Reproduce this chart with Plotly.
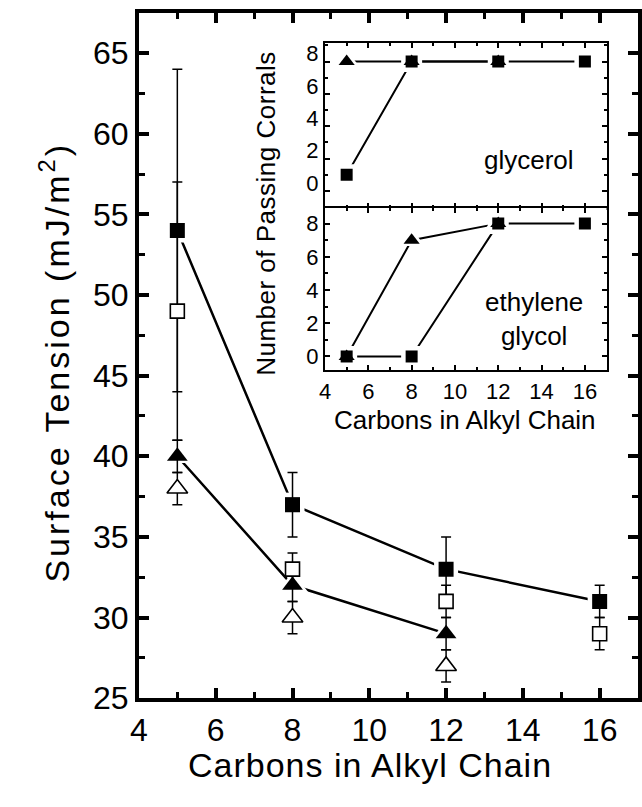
import plotly.graph_objects as go

# ---- main panel: surface tension vs. chain length ----
carbons = [5, 8, 12, 16]
carbons_tri = [5, 8, 12]

sq_filled = [54, 37, 33, 31]
sq_filled_err = [10, 2, 2, 1]
sq_open = [49, 33, 31, 29]
sq_open_err = [8, 1, 1, 1]
tri_filled = [40, 32, 29]
tri_filled_err = [1, 1, 1]
tri_open = [38, 30, 27]
tri_open_err = [1, 1, 1]

# ---- inset: number of passing corrals ----
gly_sq = [1, 8, 8, 8]
gly_tri = [8, 8, 8]
eg_sq = [0, 0, 8, 8]
eg_tri = [0, 7, 8]

y_ticks_main = [25, 30, 35, 40, 45, 50, 55, 60, 65]
x_ticks = [4, 6, 8, 10, 12, 14, 16]
y_ticks_inset = [0, 2, 4, 6, 8]

W, H = 642, 807
FONT = "Liberation Sans, Arial, Helvetica, sans-serif"
BLACK = "#000000"


def px_x(p):
    return p / W


def px_y(p):
    return 1 - p / H


fig = go.Figure()


def add_series(x, y, err, symbol, size, filled, xa, ya, line_w=None, halo=True):
    """Line (optional) + white halo + error bars + marker, drawn in layers."""
    traces = {}
    if line_w:
        traces["line"] = go.Scatter(x=x, y=y, mode="lines", xaxis=xa, yaxis=ya,
                                    line=dict(color=BLACK, width=line_w),
                                    hoverinfo="skip", showlegend=False)
    if halo:
        traces["halo"] = go.Scatter(x=x, y=y, mode="markers", xaxis=xa, yaxis=ya,
                                    marker=dict(symbol=symbol, size=size + 9,
                                                color="white", line=dict(width=0)),
                                    hoverinfo="skip", showlegend=False)
    if err is not None:
        traces["err"] = go.Scatter(x=x, y=y, mode="markers", xaxis=xa, yaxis=ya,
                                   marker=dict(size=1, color="rgba(0,0,0,0)"),
                                   error_y=dict(type="data", array=err, visible=True,
                                                color=BLACK, thickness=1.5, width=5),
                                   hoverinfo="skip", showlegend=False)
    traces["mark"] = go.Scatter(x=x, y=y, mode="markers", xaxis=xa, yaxis=ya,
                                marker=dict(symbol=symbol, size=size,
                                            color=BLACK if filled else "white",
                                            line=dict(color=BLACK, width=0 if filled else 1.6)),
                                showlegend=False)
    return traces


layers = {"line": [], "halo": [], "err": [], "mark": []}

main_series = [
    add_series(carbons, sq_filled, sq_filled_err, "square", 15, True, "x", "y", line_w=2.5),
    add_series(carbons_tri, tri_filled, tri_filled_err, "triangle-up", 18, True, "x", "y", line_w=2.5),
    add_series(carbons, sq_open, sq_open_err, "square", 14, False, "x", "y", halo=False),
    add_series(carbons_tri, tri_open, tri_open_err, "triangle-up", 18, False, "x", "y", halo=False),
]
inset_series = [
    add_series(carbons_tri, gly_tri, None, "triangle-up", 14, True, "x2", "y2", line_w=2),
    add_series(carbons, gly_sq, None, "square", 12, True, "x2", "y2", line_w=2),
    add_series(carbons_tri, eg_tri, None, "triangle-up", 14, True, "x3", "y3", line_w=2),
    add_series(carbons, eg_sq, None, "square", 12, True, "x3", "y3", line_w=2),
]
for s in main_series + inset_series:
    for k, t in s.items():
        layers[k].append(t)
for k in ["line", "halo", "err", "mark"]:
    for t in layers[k]:
        fig.add_trace(t)

main_axis = dict(showline=True, linewidth=4, linecolor=BLACK, mirror="ticks",
                 ticks="inside", ticklen=10, tickwidth=4, tickcolor=BLACK,
                 showgrid=False, zeroline=False,
                 tickfont=dict(family=FONT, size=32, color=BLACK))
inset_axis = dict(showline=True, linewidth=2, linecolor=BLACK, mirror="ticks",
                  ticks="inside", ticklen=5, tickwidth=2, tickcolor=BLACK,
                  showgrid=False, zeroline=False,
                  tickfont=dict(family=FONT, size=22, color=BLACK))

fig.update_layout(
    width=W, height=H,
    margin=dict(l=0, r=0, t=0, b=0),
    paper_bgcolor="white", plot_bgcolor="white",
    showlegend=False,
    xaxis=dict(main_axis, domain=[px_x(132), px_x(639)], range=[4, 17], anchor="y",
               tickvals=x_ticks,
               minor=dict(ticks="inside", ticklen=6, tickwidth=3, dtick=1, tick0=4,
                          tickcolor=BLACK)),
    yaxis=dict(main_axis, domain=[px_y(714), px_y(12)], range=[25, 67.5], anchor="x",
               tickvals=y_ticks_main,
               minor=dict(ticks="inside", ticklen=6, tickwidth=3, dtick=2.5, tick0=25,
                          tickcolor=BLACK)),
    xaxis2=dict(inset_axis, domain=[px_x(321), px_x(607)], range=[4, 17], anchor="y2",
                tickvals=x_ticks, showticklabels=False,
                minor=dict(ticks="inside", ticklen=3, tickwidth=1.5, dtick=1, tick0=4,
                           tickcolor=BLACK)),
    yaxis2=dict(inset_axis, domain=[px_y(212), px_y(43)], range=[-1.05, 9.15], anchor="x2",
                tickvals=y_ticks_inset, ticklabelshift=-8,
                minor=dict(ticks="inside", ticklen=3, tickwidth=1.5, dtick=1, tick0=0,
                           tickcolor=BLACK)),
    xaxis3=dict(inset_axis, domain=[px_x(321), px_x(607)], range=[4, 17], anchor="y3",
                tickvals=x_ticks,
                minor=dict(ticks="inside", ticklen=3, tickwidth=1.5, dtick=1, tick0=4,
                           tickcolor=BLACK)),
    yaxis3=dict(inset_axis, domain=[px_y(378), px_y(212)], range=[-0.82, 8.94], anchor="x3",
                tickvals=y_ticks_inset,
                minor=dict(ticks="inside", ticklen=3, tickwidth=1.5, dtick=1, tick0=0,
                           tickcolor=BLACK)),
)


def spaced(text, px):
    return f'<span style="letter-spacing:{px}px">{text}</span>'


ann = [
    dict(text=spaced("Carbons in Alkyl Chain", 1), x=px_x(367), y=px_y(782), size=34, angle=0),
    dict(text=spaced("Surface Tension (mJ/m<sup>2</sup>)", 3), x=px_x(46), y=px_y(370),
         size=34, angle=-90),
    dict(text="Carbons in Alkyl Chain", x=px_x(463), y=px_y(429), size=26, angle=0),
    dict(text=spaced("Number of Passing Corrals", 0.5), x=px_x(261), y=px_y(217),
         size=26, angle=-90),
    dict(text="glycerol", x=px_x(528), y=px_y(163), size=26, angle=0),
    dict(text="ethylene<br>glycol", x=px_x(533), y=px_y(326), size=26, angle=0),
]
for a in ann:
    fig.add_annotation(text=a["text"], x=a["x"], y=a["y"], xref="paper", yref="paper",
                       xanchor="center", yanchor="middle", showarrow=False,
                       textangle=a["angle"],
                       font=dict(family=FONT, size=a["size"], color=BLACK))

fig.write_html("out.html")
